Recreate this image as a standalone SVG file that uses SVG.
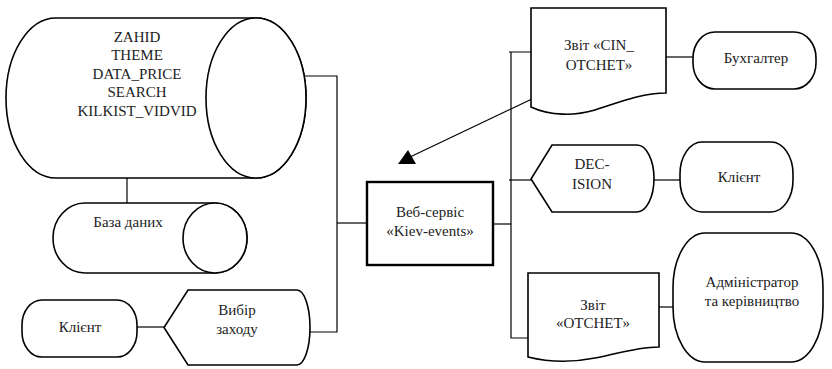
<svg xmlns="http://www.w3.org/2000/svg" width="832" height="369" viewBox="0 0 832 369" font-family="'Liberation Serif', 'Times New Roman', 'DejaVu Serif', serif">
<defs>
<style>
.s{fill:#fff;stroke:#000;stroke-width:1.6}
.b{fill:#fff;stroke:#000;stroke-width:2.4}
.c{fill:none;stroke:#000;stroke-width:1.2}
.t{font-family:'Liberation Serif','Times New Roman','DejaVu Serif',serif;font-size:15px;fill:#222;text-anchor:middle}
</style>
<marker id="ah" markerUnits="userSpaceOnUse" markerWidth="20" markerHeight="16" viewBox="0 0 20 16" refX="12" refY="7" orient="0">
<path d="M0,14 L10,0 L18,14 Z" fill="#000"/>
</marker>
</defs>
<rect width="832" height="369" fill="#fff"/>
<g id="connectors">
<path class="c" d="M304,76 H337 V332 H310"/>
<path class="c" d="M337,223 H367"/>
<path class="c" d="M127,178 V203"/>
<path class="c" d="M137,327 H164"/>
<path class="c" d="M493,224 H511"/>
<path class="c" d="M509,52 H531 M511,52 V338 H528"/>
<path class="c" d="M509,180 H531"/>
<path class="c" d="M666,57 H693"/>
<path class="c" d="M654,180 H680"/>
<path class="c" d="M659,307 H673"/>
<path class="c" d="M553,89 L410,157" marker-end="url(#ah)"/>
</g>
<g id="bigdb">
<path class="s" d="M56,18 H256 A50,80 0 0 1 256,178 H56 A50,80 0 0 1 56,18 Z"/>
<ellipse class="s" cx="256" cy="98" rx="50" ry="80"/>
<text class="t" x="137" y="42">ZAHID</text>
<text class="t" x="137" y="60">THEME</text>
<text class="t" x="137" y="79">DATA_PRICE</text>
<text class="t" x="137" y="97">SEARCH</text>
<text class="t" x="137" y="116">KILKIST_VIDVID</text>
</g>
<g id="db">
<path class="s" d="M85,203 H215 A32,35 0 0 1 215,273 H85 A32,35 0 0 1 85,203 Z"/>
<ellipse class="s" cx="215" cy="238" rx="32" ry="35"/>
<text class="t" x="128" y="227">База даних</text>
</g>
<g id="client-left">
<rect class="s" x="22" y="300" width="115" height="57" rx="20" ry="25"/>
<text class="t" x="80" y="332">Клієнт</text>
</g>
<g id="choice">
<path class="s" d="M188,290 H297 A13,37.5 0 0 1 297,365 H188 L164,327.5 Z"/>
<text class="t" x="237" y="315">Вибір</text>
<text class="t" x="237" y="334">заходу</text>
</g>
<g id="webservice">
<rect class="b" x="367" y="182" width="126" height="83"/>
<text class="t" x="430" y="217">Веб-сервіс</text>
<text class="t" x="430" y="236">«Kiev-events»</text>
</g>
<g id="cin">
<path class="s" d="M531,8 H666 V93 C640,93 615,104 595,110 C575,116 550,116 531,107 Z"/>
<text class="t" x="599" y="50">Звіт «CIN_</text>
<text class="t" x="599" y="70">OTCHET»</text>
</g>
<g id="buh">
<rect class="s" x="693" y="32" width="123" height="57" rx="22" ry="26"/>
<text class="t" x="756" y="63">Бухгалтер</text>
</g>
<g id="decision">
<path class="s" d="M552,145 H637 A17,33.5 0 0 1 637,212 H552 L531,179 Z"/>
<text class="t" x="592" y="169">DEC-</text>
<text class="t" x="592" y="189">ISION</text>
</g>
<g id="client-right">
<rect class="s" x="680" y="142" width="113" height="70" rx="22" ry="32"/>
<text class="t" x="739" y="182">Клієнт</text>
</g>
<g id="otchet">
<path class="s" d="M528,273 H659 V347 C638,347 615,354 595,358 C575,362 552,363 528,357 Z"/>
<text class="t" x="593" y="310">Звіт</text>
<text class="t" x="593" y="328">«OTCHET»</text>
</g>
<g id="admin">
<rect class="s" x="673" y="233" width="150" height="129" rx="32" ry="55"/>
<text class="t" x="752" y="287">Адміністратор</text>
<text class="t" x="752" y="306">та керівництво</text>
</g>
</svg>
